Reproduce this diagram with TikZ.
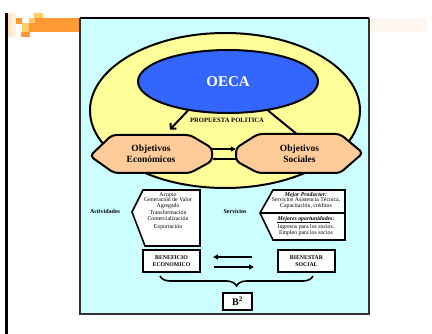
\documentclass[tikz,border=0pt]{standalone}
\usepackage{fontspec}
\setmainfont{Liberation Serif}
\usetikzlibrary{shapes.geometric,arrows.meta,decorations.pathreplacing}
\definecolor{celeste}{HTML}{CCFFFF}
\definecolor{amarillo}{HTML}{FFFF99}
\definecolor{azul}{HTML}{3366FF}
\definecolor{durazno}{HTML}{FFCC99}
\definecolor{naranja}{HTML}{FF9933}
\definecolor{naranjaclaro}{HTML}{FFCC66}
\definecolor{rosado}{HTML}{FFF6F0}

\begin{document}
\begin{tikzpicture}[x=1pt,y=-1pt,
    grueso/.style={line width=2pt},
    objfont/.style={font=\bfseries\fontsize{9.5}{11}\selectfont, align=center},
    chico/.style={font=\fontsize{5.8}{5.7}\selectfont, align=center, inner sep=0pt},
    caja/.style={draw, line width=2pt, fill=white, align=center, inner sep=0pt, font=\bfseries\fontsize{5.8}{7}\selectfont},
    flecha/.style={-{Triangle[length=5pt,width=5pt]}}]
  \useasboundingbox (0,0) rectangle (432,334);
  \fill (5,13) rectangle (8,334);
  \fill[naranja!30] (8,13) rectangle (11,37);
  \fill[naranja!15] (11,13) rectangle (16,37);
  \fill[naranja] (16,18) rectangle (22,24);
  \fill[naranjaclaro] (22,23) rectangle (29,32);
  \fill[naranja] (21,32) rectangle (30,37);
  \fill[naranjaclaro] (29,18) rectangle (35,23);
  \fill[naranja] (29,23) rectangle (35,32);
  \fill[naranjaclaro] (34,13) rectangle (43,18);
  \fill[naranja] (35,18) rectangle (80,32);
  \fill[rosado] (370,18) rectangle (427,32);
  \fill[celeste] (80,18) rectangle (369,314);
  \draw[line width=1.6pt] (80,18) -- (369,18);
  \draw[gray!40!black, line width=1.2pt] (369,18) -- (369,314) -- (80,314) -- (80,18);

  \node[grueso, draw, ellipse, fill=amarillo, minimum width=270pt, minimum height=155pt] (campo) at (225,110.5) {};
  \node[grueso, draw, ellipse, fill=azul, minimum width=180pt, minimum height=63pt, text=white,
        font=\bfseries\fontsize{15}{15}\selectfont] (oeca) at (228,81.5) {OECA};
  \node[font=\bfseries\fontsize{6.6}{7}\selectfont] (propuesta) at (227,120) {PROPUESTA POLITICA};

  \draw[grueso, fill=durazno, rounded corners=4pt] (90,156) -- (112,135) -- (190,135) -- (212,148) -- (212,161) -- (190,173) -- (114,173) -- cycle;
  \draw[grueso, fill=durazno, rounded corners=4pt] (236,148) -- (258,134) -- (340,134) -- (363,153) -- (340,173) -- (258,173) -- (236,161) -- cycle;
  \node[objfont, minimum width=122pt, minimum height=38pt] (ecoobj) at (151,154) {Objetivos\\Económicos};
  \node[objfont, minimum width=127pt, minimum height=39pt] (socobj) at (299.5,153.5) {Objetivos\\Sociales};

  \draw[grueso, -{Straight Barb[length=4pt,width=8pt]}, shorten >=7pt] (oeca.216) -- ([xshift=14pt]ecoobj.north);
  \draw[grueso] (oeca.324) -- ([xshift=-3pt]socobj.north);
  \draw[grueso, flecha] ([yshift=5pt]ecoobj.east) -- ([yshift=5pt]ecoobj.east -| socobj.west);
  \draw[grueso, -{Triangle[length=3pt,width=3pt]}] ([yshift=-5pt]ecoobj.east -| socobj.west) -- ([yshift=-5pt]ecoobj.east);

  \draw[line width=1.6pt, fill=white] (132,212) -- (143,190) -- (200,190) -- (200,246) -- (145,246) -- cycle;
  \node[chico] (acopio) at (168,211) {Acopio\\Generación de Valor\\Agregado\\[1.5pt]Transformación\\Comercialización\\[2.5pt]Exportación};
  \node[font=\bfseries\fontsize{6}{6}\selectfont] (actividades) at (105,211) {Actividades};
  \node[font=\bfseries\fontsize{6}{6}\selectfont] (servicios) at (235,211) {Servicios};

  \draw[line width=1.6pt, fill=white] (260,213) -- (273,190) -- (345,190) -- (345,240) -- (273,240) -- cycle;
  \draw[line width=1.6pt] (260,213) -- (345,213);
  \node[chico] (mejor) at (306,200.5) {\textbf{\textit{Mejor Productor:}}\\Servicios Asistencia Técnica,\\Capacitación, créditos};
  \node[chico] (oportunidades) at (306,226) {\textbf{\textit{Mejores oportunidades:}}\\[2.5pt]Ingresos para los socios.\\Empleo para los socios};
  \fill (277,221.6) rectangle (330,223.4);

  \node[caja, minimum width=57pt, minimum height=22pt] (beneficio) at (171.5,261) {BENEFICIO\\ECONOMICO};
  \node[caja, minimum width=57pt, minimum height=22pt] (bienestar) at (306.5,261) {BIENESTAR\\SOCIAL};
  \node[caja, minimum width=29pt, minimum height=17pt, font=\bfseries\fontsize{10}{10}\selectfont] (bdos) at (237.5,301.5) {B\textsuperscript{2}};

  \draw[line width=1.2pt, flecha, shorten <=25pt, shorten >=12pt] ([yshift=4pt]bienestar.west) -- ([yshift=4pt]bienestar.west -| beneficio.east);
  \draw[line width=1.8pt, flecha, shorten <=13pt, shorten >=23pt] ([yshift=-6pt]beneficio.east) -- ([yshift=-6pt]beneficio.east -| bienestar.west);
  \draw[line width=1.6pt, decorate, decoration={brace, mirror, amplitude=10pt}] ([xshift=-11.5pt,yshift=-3pt]beneficio.south) -- ([xshift=6.5pt,yshift=-3pt]bienestar.south);
\end{tikzpicture}
\end{document}
